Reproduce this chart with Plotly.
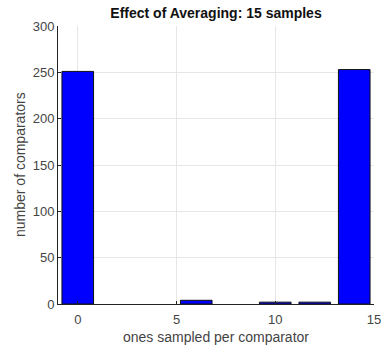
import plotly.graph_objects as go

bin_centers = [0, 2, 4, 6, 8, 10, 12, 14]
counts = [251, 0, 0, 4, 0, 2, 2, 253]
x_ticks = [0, 5, 10, 15]
y_ticks = [0, 50, 100, 150, 200, 250, 300]

title_text = "Effect of Averaging: 15 samples"
x_label = "ones sampled per comparator"
y_label = "number of comparators"

FONT = "Liberation Sans, Arial, sans-serif"
TXT = "#444444"

fig = go.Figure()
fig.add_trace(go.Bar(
    x=bin_centers, y=counts, width=1.6,
    marker=dict(color="#0000ff",
                line=dict(color="#111111", width=[1 if c > 0 else 0 for c in counts])),
))

fig.update_layout(
    width=383, height=348,
    margin=dict(l=58, r=9, t=26, b=44),
    paper_bgcolor="white", plot_bgcolor="white",
    showlegend=False,
    font=dict(family=FONT, size=13, color=TXT),
    title=dict(text="<b>" + title_text + "</b>", x=216/383, xanchor="center",
               y=1 - 13/348, yanchor="middle", yref="container",
               font=dict(family=FONT, size=14, color="#111111")),
    annotations=[dict(
        text=y_label, textangle=-90, showarrow=False,
        xref="paper", yref="paper", x=0, y=0.5, xshift=-38,
        xanchor="center", yanchor="middle",
        font=dict(family=FONT, size=14, color=TXT),
    )],
)
fig.update_xaxes(
    automargin=False,
    range=[-1, 15], tickvals=x_ticks, ticktext=[str(v) for v in x_ticks],
    showgrid=True, gridcolor="#e6e6e6", gridwidth=1,
    showline=True, linecolor="#222222", linewidth=1, mirror=False,
    ticks="inside", ticklen=3, tickcolor="#222222",
    ticklabelstandoff=3,
    zeroline=False,
    title=dict(text=x_label, standoff=6, font=dict(size=14, color=TXT)),
)
fig.update_yaxes(
    automargin=False,
    range=[0, 300], tickvals=y_ticks,
    showgrid=True, gridcolor="#e6e6e6", gridwidth=1,
    showline=True, linecolor="#222222", linewidth=1, mirror=False,
    ticks="inside", ticklen=3, tickcolor="#222222",
    zeroline=False,
)

fig.write_html("out.html")
